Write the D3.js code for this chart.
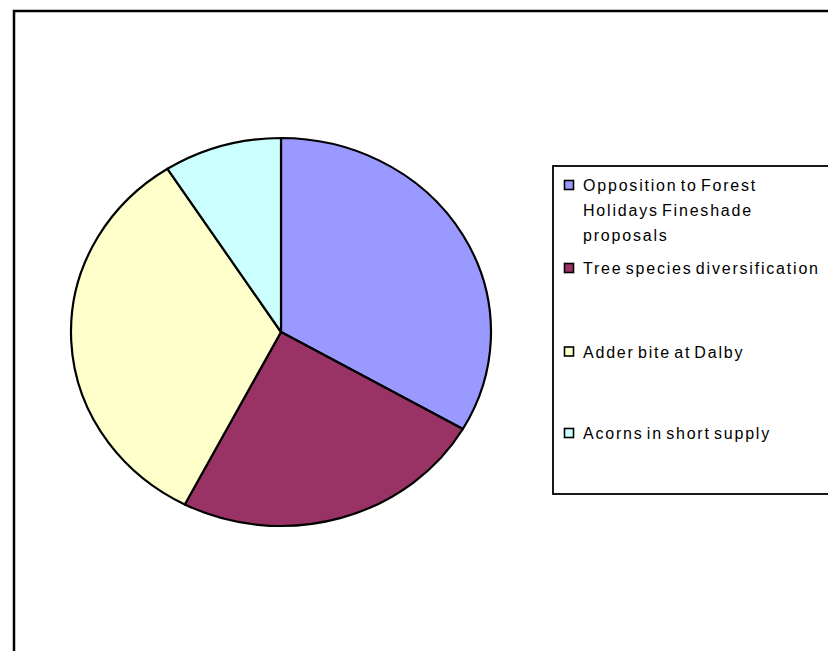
<!DOCTYPE html>
<html>
<head>
<meta charset="utf-8">
<title>pie</title>
<script src="https://cdn.jsdelivr.net/npm/d3@7"></script>
<style>
  body { margin: 0; background: #fff; }
  svg { display: block; }
  .legend text {
    font-family: "Liberation Sans", Arial, sans-serif;
    font-size: 16px;
    letter-spacing: 1.8px;
    word-spacing: -3px;
    fill: #000;
  }
</style>
</head>
<body>
<script>
// data
var labels = [
  ["Opposition to Forest", "Holidays Fineshade", "proposals"],
  ["Tree species diversification"],
  ["Adder bite at Dalby"],
  ["Acorns in short supply"]
];
var values = [11, 8, 11, 3];
var colors = ["#9999ff", "#993366", "#ffffcc", "#ccffff"];

var w = 828, h = 651;
var cx = 281, cy = 332, rx = 210, ry = 194;

var svg = d3.select("body").append("svg")
  .attr("width", w)
  .attr("height", h);

// chart frame (runs off the right and bottom)
svg.append("rect")
  .attr("x", 14).attr("y", 11)
  .attr("width", w + 10).attr("height", h + 10)
  .attr("fill", "#fff")
  .attr("stroke", "#000")
  .attr("stroke-width", 2.5);

var pie = d3.pie().sort(null).value(function(d) { return d; });
var arc = d3.arc().innerRadius(0).outerRadius(rx);

svg.append("g")
  .attr("transform", "translate(" + cx + "," + cy + ") scale(1," + (ry / rx) + ")")
  .selectAll("path")
  .data(pie(values))
  .enter()
  .append("path")
  .attr("d", arc)
  .attr("fill", function(d, i) { return colors[i]; })
  .attr("stroke", "#000")
  .attr("stroke-width", 2.2)
  .attr("stroke-linejoin", "round")
  .attr("vector-effect", "non-scaling-stroke");

// legend
var legend = svg.append("g").attr("class", "legend");
legend.append("rect")
  .attr("x", 553).attr("y", 166)
  .attr("width", 300).attr("height", 328)
  .attr("fill", "#fff")
  .attr("stroke", "#000")
  .attr("stroke-width", 1.8);

var rowY = [185, 268, 351.5, 433];
var item = legend.selectAll("g.item")
  .data(labels)
  .enter()
  .append("g")
  .attr("class", "item")
  .attr("transform", function(d, i) { return "translate(0," + rowY[i] + ")"; });

item.append("rect")
  .attr("x", 564.5).attr("y", -4.5)
  .attr("width", 9).attr("height", 9)
  .attr("fill", function(d, i) { return colors[i]; })
  .attr("stroke", "#000")
  .attr("stroke-width", 1.6);

item.append("text")
  .attr("x", 583)
  .selectAll("tspan")
  .data(function(d) { return d; })
  .enter()
  .append("tspan")
  .attr("x", 583)
  .attr("y", function(d, j) { return j * 25 + 6; })
  .text(function(d) { return d; });
</script>
</body>
</html>
